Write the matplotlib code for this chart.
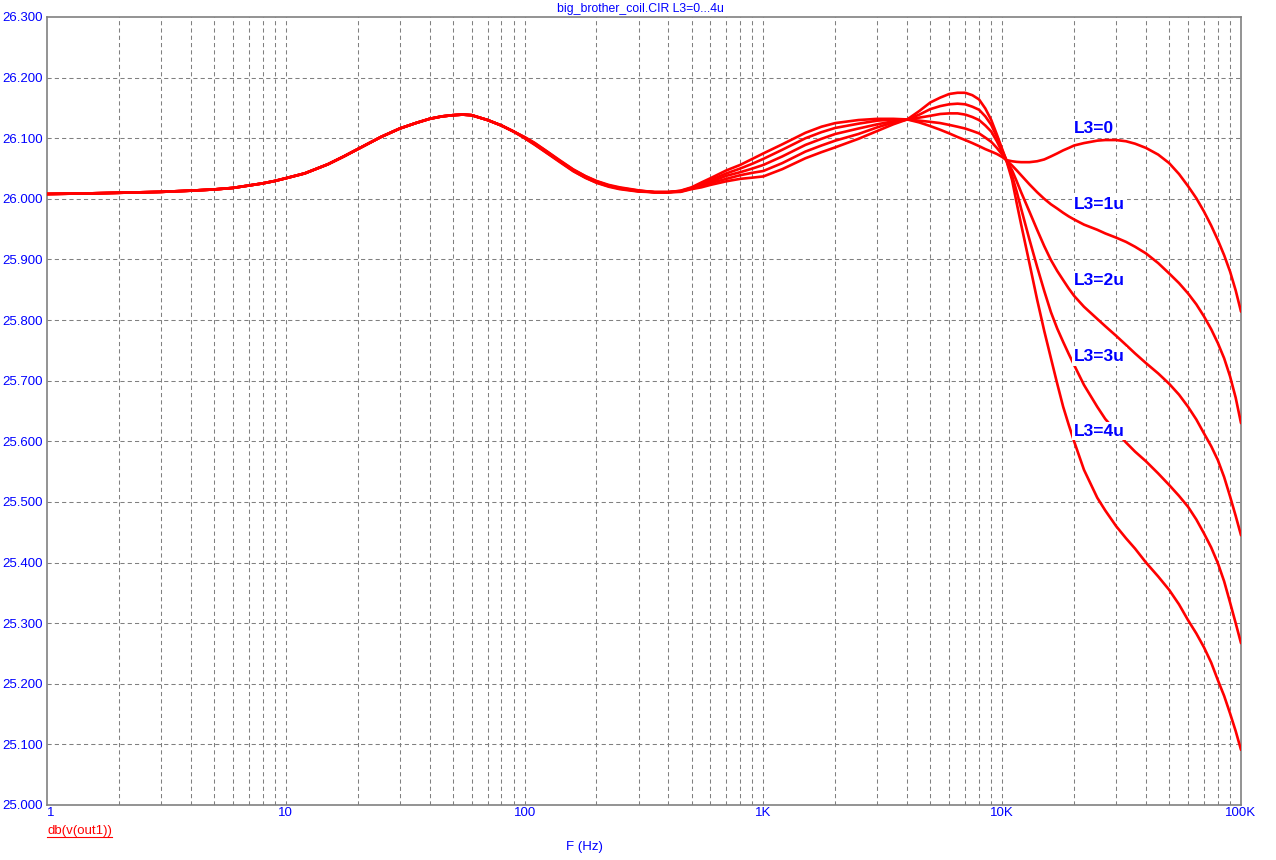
import numpy as np
import matplotlib
matplotlib.use("Agg")
import matplotlib.pyplot as plt
from matplotlib.lines import Line2D

plt.rcParams['font.family'] = ['Liberation Sans', 'DejaVu Sans']

# ---- data ----
# below ~100 Hz all five traces coincide
freq_common = [1, 1.5, 2, 3, 4, 5, 6, 7, 8, 9, 10, 12, 15, 17.5, 20, 25, 30, 35, 40, 45,
               50, 55, 60, 70, 80, 90]
db_common = [26.008, 26.009, 26.010, 26.0115, 26.0135, 26.0155, 26.018, 26.022, 26.0255, 26.0295,
             26.034, 26.042, 26.057, 26.070, 26.082, 26.102, 26.116, 26.125, 26.132, 26.136,
             26.138, 26.139, 26.138, 26.130, 26.121, 26.111]

freq_split = [100, 110, 125, 140, 160, 180, 200, 225, 250, 300, 350, 400,
              450, 500, 550, 600, 700, 800, 900, 1000,
              1200, 1500, 1750, 2000, 2500, 3000, 3500, 4000,
              4500, 5000, 5500, 6000, 6500, 7000, 7500, 8000, 8500, 9000, 9500, 10000,
              10400,
              11000, 11500, 12000, 13000, 14000, 15000, 16000, 17000, 18000, 19000,
              20000, 22000, 25000, 27000, 30000, 33000, 36000, 40000,
              45000, 50000, 55000, 60000, 65000, 70000, 75000, 80000, 85000, 90000, 95000, 100000]

db_L3_0 = [26.100, 26.0895, 26.0745, 26.061, 26.0455, 26.0345, 26.0265, 26.020, 26.016, 26.012, 26.011, 26.011,
           26.0135, 26.019, 26.027, 26.034, 26.047, 26.056, 26.066, 26.075,
           26.090, 26.109, 26.119, 26.125, 26.130, 26.132, 26.132, 26.131,
           26.126, 26.120, 26.114, 26.108, 26.102, 26.097, 26.092, 26.087, 26.082, 26.078, 26.074, 26.069,
           26.064,
           26.062, 26.061, 26.0605, 26.0605, 26.062, 26.065, 26.070, 26.075, 26.080, 26.084,
           26.088, 26.092, 26.096, 26.097, 26.097, 26.095, 26.091, 26.084,
           26.073, 26.059, 26.041, 26.021, 26.001, 25.979, 25.956, 25.932, 25.907, 25.880, 25.849, 25.814]

db_L3_1u = [26.1005, 26.090, 26.075, 26.062, 26.046, 26.035, 26.027, 26.021, 26.017, 26.0125, 26.011, 26.011,
            26.013, 26.018, 26.025, 26.031, 26.042, 26.050, 26.058, 26.066,
            26.081, 26.100, 26.110, 26.117, 26.124, 26.129, 26.131, 26.131,
            26.129, 26.127, 26.125, 26.122, 26.119, 26.116, 26.112, 26.108, 26.101, 26.094, 26.084, 26.073,
            26.064,
            26.055, 26.047, 26.039, 26.024, 26.011, 26.000, 25.991, 25.984, 25.977, 25.971,
            25.966, 25.9575, 25.949, 25.943, 25.936, 25.929, 25.921, 25.910,
            25.894, 25.877, 25.861, 25.844, 25.826, 25.806, 25.785, 25.762, 25.737, 25.707, 25.672, 25.630]

db_L3_2u = [26.101, 26.091, 26.076, 26.0625, 26.047, 26.036, 26.028, 26.0215, 26.0175, 26.013, 26.011, 26.011,
            26.0125, 26.0175, 26.023, 26.028, 26.038, 26.044, 26.050, 26.056,
            26.070, 26.089, 26.099, 26.107, 26.116, 26.123, 26.128, 26.131,
            26.134, 26.137, 26.140, 26.141, 26.141, 26.139, 26.135, 26.130, 26.121, 26.111, 26.095, 26.077,
            26.064,
            26.047, 26.029, 26.011, 25.979, 25.949, 25.922, 25.899, 25.881, 25.866, 25.852,
            25.840, 25.822, 25.802, 25.790, 25.774, 25.759, 25.745, 25.729,
            25.712, 25.695, 25.677, 25.657, 25.636, 25.613, 25.592, 25.569, 25.541, 25.509, 25.477, 25.445]

db_L3_3u = [26.1015, 26.092, 26.077, 26.063, 26.048, 26.037, 26.029, 26.022, 26.018, 26.0135, 26.011, 26.011,
            26.012, 26.017, 26.021, 26.026, 26.033, 26.039, 26.043, 26.046,
            26.059, 26.078, 26.088, 26.096, 26.107, 26.118, 26.126, 26.131,
            26.139, 26.148, 26.153, 26.156, 26.157, 26.156, 26.152, 26.147, 26.136, 26.122, 26.102, 26.080,
            26.064,
            26.038, 26.012, 25.984, 25.933, 25.888, 25.848, 25.813, 25.786, 25.764, 25.744,
            25.726, 25.693, 25.657, 25.637, 25.616, 25.598, 25.583, 25.567,
            25.547, 25.528, 25.510, 25.492, 25.471, 25.448, 25.425, 25.399, 25.369, 25.334, 25.300, 25.267]

db_L3_4u = [26.102, 26.0925, 26.0775, 26.064, 26.0485, 26.0375, 26.0295, 26.023, 26.019, 26.014, 26.011, 26.011,
            26.0115, 26.016, 26.019, 26.023, 26.029, 26.033, 26.035, 26.037,
            26.049, 26.067, 26.077, 26.085, 26.099, 26.112, 26.123, 26.131,
            26.145, 26.159, 26.167, 26.173, 26.175, 26.175, 26.171, 26.164, 26.149, 26.130, 26.106, 26.082,
            26.064,
            26.031, 25.993, 25.958, 25.894, 25.834, 25.782, 25.737, 25.695, 25.657, 25.627,
            25.600, 25.553, 25.507, 25.486, 25.460, 25.440, 25.423, 25.400,
            25.377, 25.355, 25.331, 25.305, 25.283, 25.260, 25.235, 25.206, 25.180, 25.151, 25.122, 25.091]

curve_names = ["L3=0", "L3=1u", "L3=2u", "L3=3u", "L3=4u"]
curve_values = [db_L3_0, db_L3_1u, db_L3_2u, db_L3_3u, db_L3_4u]
label_freq = 20000
label_db = [26.116, 25.990, 25.866, 25.740, 25.617]

x_ticks = [1, 10, 100, 1000, 10000, 100000]
x_ticklabels = ["1", "10", "100", "1K", "10K", "100K"]
y_ticks = [25.0, 25.1, 25.2, 25.3, 25.4, 25.5, 25.6, 25.7, 25.8, 25.9, 26.0, 26.1, 26.2, 26.3]

title_text = "big_brother_coil.CIR L3=0...4u"
xlabel_text = "F (Hz)"
trace_text = "db(v(out1))"

# ---- figure ----
W, H = 1276, 860
fig = plt.figure(figsize=(W / 100, H / 100), dpi=100)
fig.patch.set_facecolor("white")
ax = fig.add_axes([47 / W, 1 - 805 / H, (1241 - 47) / W, (805 - 17) / H])

blue = "#0000FF"
red = "#FF0000"
grid_c = "#808080"

freq_all = np.array(freq_common + freq_split, dtype=float)
for vals in curve_values:
    y = np.array(db_common + vals, dtype=float)
    ax.plot(freq_all, y, color=red, lw=1.9, zorder=3,
            solid_joinstyle="round", solid_capstyle="round")

ax.set_xscale("log")
ax.set_xlim(1, 100000)
ax.set_ylim(25.0, 26.3)

# dashed grid (decades and 2..9 subdivisions on x, every 0.1 on y)
minor_x = [m * d for d in [1, 10, 100, 1000, 10000] for m in range(2, 10)]
for xv in minor_x + x_ticks[1:-1]:
    ax.axvline(xv, color=grid_c, lw=0.75, ls=(0, (4, 3)), zorder=1)
for yv in y_ticks[1:-1]:
    ax.axhline(yv, color=grid_c, lw=0.75, ls=(0, (4, 3)), zorder=1)

for s in ax.spines.values():
    s.set_color(grid_c)
    s.set_linewidth(1.2)

ax.set_xticks(x_ticks)
ax.set_xticklabels(x_ticklabels)
ax.xaxis.set_minor_locator(matplotlib.ticker.NullLocator())
ax.set_yticks(y_ticks)
ax.set_yticklabels(["%.3f" % v for v in y_ticks])
ax.tick_params(axis="both", length=0, colors=blue, labelsize=9.5)
ax.tick_params(axis="x", pad=1.5)
ax.tick_params(axis="y", pad=3)
ax.get_xticklabels()[0].set_horizontalalignment("left")

# curve labels (white background hides the trace beneath)
for name, yv in zip(curve_names, label_db):
    ax.text(label_freq, yv, name, color=blue, fontsize=12.5, fontweight="bold",
            ha="left", va="center", zorder=5,
            bbox=dict(facecolor="white", edgecolor="none", pad=1.2))

# texts
fig.text(640 / W, 1 - 9 / H, title_text, color=blue, fontsize=8.8, ha="center", va="center")
fig.text(584 / W, 1 - 847 / H, xlabel_text, color=blue, fontsize=9.5, ha="center", va="center")
t = fig.text(47 / W, 1 - 831 / H, trace_text, color=red, fontsize=9.5, ha="left", va="center")

fig.canvas.draw()
bb = t.get_window_extent()
yline = (bb.y0 + 0.5) / H
fig.add_artist(Line2D([bb.x0 / W, bb.x1 / W], [yline, yline], color=red, lw=0.8,
                      transform=fig.transFigure))

fig.savefig("out.png", dpi=100, facecolor="white")
